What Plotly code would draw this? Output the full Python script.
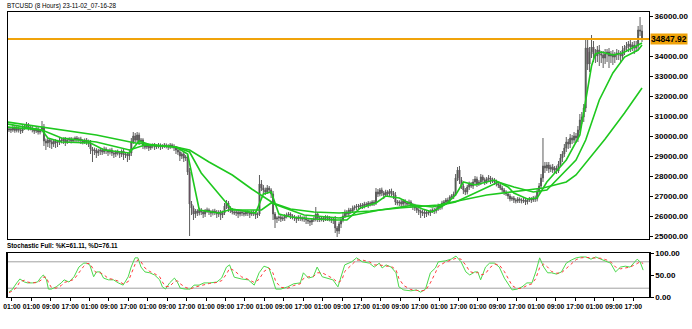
import plotly.graph_objects as go

# ---------------- data ----------------
first_open = 30300
closes = [
    30350, 30300, 30420, 30280, 30380, 30300, 30250, 30400, 30480, 30550,
    30420, 30380, 30300, 30250, 30350, 30200, 30280, 30450, 29750, 29650,
    29800, 29700, 29600, 29750, 29650, 29700, 29800, 29750, 29850, 29700,
    29800, 29850, 29750, 29800, 29900, 29800, 29850, 29750, 29700, 29800,
    29700, 29650, 29350, 29250, 29300, 29150, 29250, 29300, 29200, 29350,
    29250, 29200, 29300, 29150, 29100, 29200, 29150, 29100, 29250, 29050,
    29100, 29000, 29150, 29700, 30000, 29800, 30050, 29700, 29800, 29500,
    29450, 29500, 29400, 29500, 29550, 29450, 29500, 29550, 29450, 29500,
    29550, 29500, 29450, 29550, 29500, 29400, 29300, 29200, 29000, 29100,
    28900, 28950, 28200, 26600, 26400, 26100, 26250, 26150, 26300, 26200,
    26100, 26250, 26300, 26200, 26150, 26250, 26200, 26100, 26200, 26050,
    26150, 26500, 26650, 26400, 26300, 26200, 26150, 26200, 26100, 26200,
    26150, 26100, 26200, 26150, 26100, 26200, 26150, 26050, 26100, 27600,
    27400, 27300, 27200, 27400, 27300, 27100, 26100, 25850, 25900, 25950,
    25850, 25900, 26000, 26050, 26100, 26000, 25950, 25900, 25850, 25950,
    25900, 25850, 25900, 25800, 25750, 25700, 25800, 25850, 26100, 25900,
    25850, 25900, 25850, 25950, 25900, 25850, 25800, 25850, 25400, 25250,
    25600, 25800, 26000, 26200, 26100, 26300, 26250, 26400, 26450, 26500,
    26450, 26550, 26500, 26600, 26550, 26650, 26600, 26700, 26650, 27200,
    27100, 27300, 27150, 27050, 27200, 27100, 27250, 27150, 27050, 26700,
    26650, 26700, 26600, 26750, 26650, 26600, 26700, 26550, 26500, 26400,
    26300, 26250, 26150, 26200, 26100, 26200, 26150, 26250, 26300, 26250,
    26350, 26500, 26450, 26650, 26700, 26800, 26750, 26950, 27000, 27100,
    27900, 28300, 27800, 27500, 27300, 27200, 27450, 27600, 27500, 27700,
    27850, 27600, 27700, 27950, 27800, 27700, 27850, 27900, 27750, 27800,
    27700, 27600, 27550, 27400, 27300, 27200, 27100, 27000, 26850, 26900,
    26800, 26750, 26850, 26800, 26750, 26800, 26700, 26800, 26850, 26800,
    26900, 26850, 27200, 27500, 27900, 28500, 28400, 28550, 28350, 28450,
    28300, 28400, 28250, 28600, 28900, 29100, 29400, 29700, 29600, 29900,
    29800, 30000, 29900, 30300, 30800, 30950, 31400, 34400, 33600, 34200,
    34450, 34100, 34000, 34300, 34100, 34050, 33900, 34100, 34200, 34000,
    34100, 33950, 34050, 34150, 34100, 34000, 34300, 34400, 34500, 34600,
    34450, 34550, 34400, 34500, 35300, 35250, 34847.92,
]
upper_wick = [
    120, 100, 150, 90, 130, 100, 110, 140, 120, 150,
    100, 80, 120, 90, 100, 110, 80, 300, 150, 120,
    100, 80, 120, 100, 90, 110, 100, 120, 80, 100,
    110, 90, 100, 120, 80, 100, 90, 110, 100, 80,
    100, 120, 150, 100, 120, 90, 110, 80, 100, 120,
    90, 100, 80, 110, 100, 90, 120, 100, 80, 110,
    90, 100, 150, 200, 200, 150, 150, 120, 100, 90,
    80, 100, 90, 110, 80, 100, 90, 100, 80, 90,
    100, 80, 90, 100, 80, 90, 100, 120, 100, 90,
    110, 100, 150, 200, 150, 120, 100, 90, 110, 100,
    90, 100, 120, 80, 100, 90, 110, 100, 90, 100,
    120, 150, 150, 100, 90, 100, 80, 90, 100, 80,
    90, 100, 80, 90, 100, 80, 90, 100, 80, 450,
    200, 150, 120, 150, 100, 90, 150, 100, 90, 80,
    100, 90, 100, 120, 100, 80, 90, 100, 80, 90,
    100, 80, 90, 100, 80, 90, 100, 120, 350, 100,
    90, 80, 100, 90, 80, 100, 90, 80, 150, 100,
    120, 100, 150, 120, 100, 110, 100, 120, 90, 100,
    100, 90, 100, 110, 90, 100, 80, 90, 100, 200,
    150, 100, 120, 100, 110, 90, 100, 120, 100, 150,
    100, 90, 110, 100, 90, 100, 120, 90, 100, 110,
    100, 90, 80, 100, 110, 90, 100, 80, 90, 100,
    100, 120, 90, 110, 100, 100, 120, 90, 100, 120,
    200, 150, 200, 150, 120, 100, 110, 120, 100, 150,
    150, 120, 100, 150, 110, 120, 100, 150, 100, 120,
    100, 120, 100, 90, 110, 100, 90, 100, 110, 90,
    100, 90, 100, 80, 90, 100, 110, 90, 100, 90,
    100, 120, 150, 150, 200, 1400, 200, 150, 150, 120,
    150, 100, 120, 150, 200, 150, 200, 250, 150, 200,
    150, 200, 150, 200, 300, 250, 200, 500, 400, 250,
    600, 300, 250, 200, 250, 150, 200, 250, 150, 200,
    150, 200, 150, 200, 150, 150, 200, 150, 200, 150,
    200, 150, 200, 250, 200, 650, 300,
]
lower_wick = [
    100, 150, 90, 120, 100, 130, 150, 100, 90, 120,
    150, 100, 120, 150, 100, 130, 120, 100, 250, 350,
    200, 300, 250, 150, 250, 200, 150, 120, 150, 200,
    100, 150, 120, 100, 150, 120, 100, 150, 120, 100,
    150, 200, 250, 550, 200, 250, 150, 200, 150, 100,
    150, 200, 120, 150, 200, 150, 120, 200, 150, 250,
    150, 300, 200, 150, 100, 150, 120, 150, 100, 150,
    120, 100, 150, 100, 120, 150, 100, 120, 150, 100,
    100, 120, 150, 100, 120, 150, 200, 150, 250, 150,
    200, 150, 150, 1600, 350, 300, 200, 150, 120, 150,
    200, 150, 100, 150, 200, 120, 150, 200, 150, 250,
    150, 100, 150, 200, 150, 120, 100, 150, 200, 120,
    150, 120, 100, 150, 200, 100, 150, 200, 150, 100,
    150, 200, 150, 100, 150, 200, 300, 450, 200, 150,
    150, 100, 150, 120, 100, 150, 120, 150, 200, 100,
    150, 120, 150, 200, 150, 200, 150, 100, 120, 200,
    150, 120, 150, 100, 150, 120, 150, 200, 250, 300,
    150, 200, 120, 100, 150, 120, 150, 100, 120, 150,
    120, 100, 150, 120, 100, 150, 120, 100, 150, 100,
    150, 120, 150, 200, 100, 150, 120, 150, 200, 150,
    120, 150, 200, 100, 150, 120, 100, 150, 200, 150,
    150, 200, 250, 150, 200, 150, 120, 150, 100, 150,
    120, 100, 150, 120, 100, 150, 120, 100, 120, 150,
    100, 150, 200, 150, 200, 150, 120, 150, 100, 150,
    120, 150, 100, 150, 120, 150, 100, 120, 150, 100,
    150, 120, 150, 100, 120, 150, 100, 150, 120, 100,
    150, 120, 100, 150, 120, 100, 150, 120, 100, 150,
    100, 150, 120, 100, 150, 200, 250, 150, 200, 150,
    150, 200, 150, 100, 150, 200, 150, 200, 250, 200,
    200, 150, 250, 200, 150, 200, 250, 200, 300, 400,
    300, 400, 350, 300, 600, 400, 500, 300, 400, 600,
    350, 400, 300, 250, 300, 350, 200, 250, 200, 300,
    250, 200, 300, 200, 200, 250, 150,
]

# moving averages (bar position, value)
ma_slow_bar = [-1, 17, 45, 65, 86, 93, 103, 115, 125, 136, 145, 157, 170, 186, 201,
               221, 246, 267, 275, 287, 292, 307, 317, 326]
ma_slow_val = [30700, 30450, 30050, 29650, 29450, 29300, 28700, 28050, 27350, 26650,
               26350, 26200, 26150, 26250, 26400, 26550, 27050, 27300, 27400, 27700,
               28050, 29850, 31150, 32400]
ma_mid_bar = [-1, 17, 27, 45, 62, 70, 86, 93, 99, 111, 115, 130, 135, 152, 170, 191,
              201, 209, 218, 230, 240, 252, 260, 270, 277, 287, 292, 297, 304, 311,
              317, 324, 326]
ma_mid_val = [30600, 30300, 29900, 29700, 29300, 29550, 29450, 29200, 28150, 26800,
              26300, 26300, 26650, 26050, 25900, 26300, 26450, 26550, 26450, 26700,
              27150, 27700, 27450, 27200, 27300, 28300, 28800, 29800, 31800, 33150,
              33950, 34300, 34550]
ma_fast_bar = [-1, 17, 20, 27, 42, 49, 62, 67, 73, 86, 92, 98, 108, 115, 127, 131,
               135, 139, 145, 157, 168, 174, 181, 189, 194, 201, 206, 213, 218, 225,
               230, 234, 240, 250, 257, 260, 267, 272, 277, 284, 287, 294, 298, 300,
               302, 305, 307, 311, 316, 321, 326]
ma_fast_val = [30450, 30300, 29900, 29700, 29650, 29300, 29150, 29750, 29550, 29450,
               29100, 26300, 26150, 26350, 26150, 27100, 27200, 26100, 25950, 25850,
               25800, 25800, 26400, 26650, 27000, 26900, 26650, 26350, 26200, 26600,
               27050, 27700, 27550, 27800, 27450, 27150, 26850, 26900, 27700, 28450,
               28800, 30050, 32400, 33500, 34100, 34200, 34150, 34050, 34150, 34400,
               34650]

last_price = 34847.92

# stochastic (bar position, %K, %D)
stoch_bar = [
    0, 1.5, 4, 5.6, 8, 9.6, 12, 14.7, 16.7, 17.7,
    19.3, 20.3, 21.8, 24.3, 26.9, 28.4, 30.9, 33.5, 36, 38.5,
    40, 41.6, 43.6, 45, 47, 48.7, 51.2, 53.8, 56.3, 58.8,
    61.4, 62.9, 64.9, 66.4, 68, 70, 72.5, 75, 77.6, 79,
    80.6, 82.7, 85.2, 86.7, 88.2, 90.8, 93.3, 95.3, 97.9, 100.4,
    103.4, 107, 109.5, 112, 113.6, 116, 119.7, 123.2, 126.3, 128.8,
    131.3, 133.9, 135.9, 137.4, 140, 143.5, 146.6, 150, 151.6, 154.2,
    156.7, 158.7, 161.3, 164.3, 166.8, 169.4, 171.4, 172.9, 176.5, 179,
    182, 185.6, 188.1, 190.7, 192.2, 194.2, 196.8, 199.3, 200.8, 203.3,
    206.9, 209.9, 212, 214.5, 217, 219.6, 221.1, 224.6, 227.7, 230.2,
    232.8, 235.3, 237.3, 239.9, 241.4, 242.9, 245.4, 247.5, 250, 252.5,
    255.1, 257.6, 259.1, 261.7, 264.2, 266.7, 269.3, 271.3, 273.3, 275.4,
    277.4, 279.4, 282, 284.5, 287, 289.6, 292.1, 294.6, 297.2, 299.7,
    302.2, 304.8, 307.3, 309.8, 312.4, 314.9, 317.4, 319.9, 323.5, 325,
    326.6,
]
stoch_k = [
    12, 16, 32, 41, 34, 32, 32, 34, 46, 50,
    39, 18, 18, 23, 32, 39, 34, 46, 68, 77,
    77, 73, 46, 57, 57, 43, 39, 39, 32, 27,
    46, 68, 89, 89, 68, 57, 55, 50, 39, 23,
    18, 32, 43, 34, 20, 18, 18, 27, 27, 32,
    32, 34, 43, 68, 73, 45, 41, 39, 27, 55,
    70, 66, 39, 18, 18, 23, 30, 32, 55, 43,
    46, 68, 46, 43, 39, 23, 55, 73, 80, 89,
    80, 77, 68, 77, 66, 73, 68, 55, 23, 16,
    14, 16, 11, 18, 55, 66, 80, 82, 86, 93,
    80, 57, 50, 57, 57, 39, 68, 77, 77, 68,
    43, 27, 16, 18, 23, 32, 32, 57, 89, 68,
    55, 55, 52, 57, 77, 84, 89, 91, 91, 86,
    91, 86, 82, 77, 57, 68, 70, 68, 86, 80,
    61.11,
]
stoch_d = [
    10, 13, 22, 35, 38, 34, 32, 33, 39, 45,
    45, 33, 22, 20, 26, 33, 36, 40, 55, 70,
    76, 76, 62, 55, 55, 51, 42, 40, 36, 30,
    35, 52, 74, 85, 80, 66, 58, 53, 46, 34,
    24, 24, 35, 37, 30, 22, 18, 22, 25, 29,
    31, 33, 37, 52, 65, 60, 46, 40, 33, 40,
    58, 66, 55, 35, 22, 20, 26, 30, 42, 46,
    46, 55, 55, 48, 42, 33, 38, 58, 74, 84,
    84, 80, 73, 73, 72, 70, 70, 62, 42, 26,
    17, 15, 14, 15, 32, 55, 70, 79, 84, 88,
    86, 72, 58, 54, 56, 50, 53, 66, 75, 73,
    58, 40, 26, 19, 20, 26, 30, 42, 67, 75,
    68, 58, 54, 55, 65, 77, 85, 89, 90, 89,
    89, 88, 85, 80, 68, 64, 66, 68, 76, 80,
    76.11,
]

price_ticks = [25000, 26000, 27000, 28000, 29000, 30000, 31000, 32000, 33000, 34000, 36000]
stoch_ticks = [0, 50, 100]
time_labels = [
    "01:00", "01:00", "09:00", "17:00", "01:00", "09:00", "17:00", "01:00", "09:00", "17:00",
    "01:00", "09:00", "17:00", "01:00", "09:00", "17:00", "01:00", "09:00", "17:00", "01:00",
    "09:00", "17:00", "01:00", "17:00", "01:00", "09:00", "17:00", "01:00", "09:00", "17:00",
    "01:00", "09:00", "17:00",
]
title_text = "BTCUSD (8 Hours) 23-11-02_07-16-28"
stoch_text = "Stochastic Full: %K=61.11, %D=76.11"

# ---------------- build ----------------
bars = list(range(len(closes)))
opens = [first_open] + closes[:-1]
highs = [max(o, c) + u for o, c, u in zip(opens, closes, upper_wick)]
lows = [min(o, c) - d for o, c, d in zip(opens, closes, lower_wick)]

FONT = "Liberation Sans, Arial, sans-serif"
MA_COLOR = "#1ec81e"

fig = go.Figure()
fig.add_trace(go.Candlestick(
    x=bars, open=opens, high=highs, low=lows, close=closes,
    increasing=dict(line=dict(color="#5c5c5c", width=1), fillcolor="#1f4f1f"),
    decreasing=dict(line=dict(color="#5c5c5c", width=1), fillcolor="#7a1656"),
    whiskerwidth=0, showlegend=False, hoverinfo="skip", xaxis="x", yaxis="y"))
for bx, vy in [(ma_slow_bar, ma_slow_val), (ma_mid_bar, ma_mid_val), (ma_fast_bar, ma_fast_val)]:
    fig.add_trace(go.Scatter(x=bx, y=vy, mode="lines", line=dict(color=MA_COLOR, width=1.6),
                             showlegend=False, hoverinfo="skip", xaxis="x", yaxis="y"))
fig.add_trace(go.Scatter(x=stoch_bar, y=stoch_k, mode="lines",
                         line=dict(color="#4cd94c", width=1), showlegend=False,
                         hoverinfo="skip", xaxis="x2", yaxis="y2"))
fig.add_trace(go.Scatter(x=stoch_bar, y=stoch_d, mode="lines",
                         line=dict(color="#ff3b3b", width=1, dash="dot"), showlegend=False,
                         hoverinfo="skip", xaxis="x2", yaxis="y2"))

W, H = 692, 329
ml, mr, mt, mb = 3, 38, 12, 32
ph = H - mt - mb
main_bottom = (297 - 239) / ph
stoch_top = (297 - 253) / ph
xr = [-0.51, 329.6]

yfont = dict(family=FONT, size=8, color="#000000")
xfont = dict(family=FONT, size=6.8, color="#000000")
fig.update_layout(
    width=W, height=H, margin=dict(l=ml, r=mr, t=mt, b=mb),
    paper_bgcolor="white", plot_bgcolor="white",
    font=dict(family=FONT, size=8, color="#000"),
    xaxis=dict(domain=[0, 1], range=xr, anchor="y", showticklabels=False, ticks="",
               showgrid=False, zeroline=False, showline=True, mirror=True,
               linecolor="#000", linewidth=1, rangeslider=dict(visible=False)),
    yaxis=dict(domain=[main_bottom, 1], range=[24850, 36200], side="right", anchor="x",
               tickvals=price_ticks, ticktext=[f"<b>{v:.2f}</b>" for v in price_ticks],
               ticks="outside", ticklen=3, tickcolor="#000", tickfont=yfont,
               showgrid=False, zeroline=False, showline=True, mirror=True,
               linecolor="#000", linewidth=1),
    xaxis2=dict(domain=[0, 1], range=xr, anchor="y2", matches="x",
                tickvals=[1.5 + 10 * k for k in range(len(time_labels))],
                ticktext=[f"<b>{t}</b>" for t in time_labels],
                ticks="outside", ticklen=3, tickcolor="#000", tickfont=xfont,
                tickangle=0, showgrid=False, zeroline=False, showline=True, mirror=True,
                linecolor="#000", linewidth=1),
    yaxis2=dict(domain=[0, stoch_top], range=[0, 100], side="right", anchor="x2",
                tickvals=stoch_ticks, ticktext=[f"<b>{v:.2f}</b>" for v in stoch_ticks],
                ticks="outside", ticklen=3, tickcolor="#000", tickfont=yfont,
                showgrid=False, zeroline=False, showline=True, mirror=True,
                linecolor="#000", linewidth=1.5),
    shapes=[
        dict(type="line", xref="paper", x0=0, x1=1, yref="y", y0=last_price, y1=last_price,
             line=dict(color="#f0a30a", width=2), layer="above"),
        dict(type="line", xref="paper", x0=0, x1=1, yref="y2", y0=80, y1=80,
             line=dict(color="#a0a0a0", width=1), layer="below"),
        dict(type="line", xref="paper", x0=0, x1=1, yref="y2", y0=20, y1=20,
             line=dict(color="#a0a0a0", width=1), layer="below"),
    ],
    annotations=[
        dict(text=title_text, xref="paper", yref="paper", x=0, y=1, xanchor="left",
             yanchor="bottom", showarrow=False, font=dict(family=FONT, size=6.3, color="#000"),
             xshift=-3, yshift=0),
        dict(text=f"<b>{stoch_text}</b>", xref="paper", yref="paper", x=0, y=(297 - 245.5) / ph,
             xanchor="left", yanchor="middle", showarrow=False,
             font=dict(family=FONT, size=6.3, color="#000"), xshift=-3),
        dict(text=f"<b>{last_price:.2f}</b>", xref="paper", yref="y", x=1, y=last_price,
             xanchor="left", yanchor="middle", showarrow=False, bgcolor="#f0a30a",
             borderpad=0, font=dict(family=FONT, size=8.5, color="#000"), xshift=1),
    ],
)

fig.write_html("out.html")
